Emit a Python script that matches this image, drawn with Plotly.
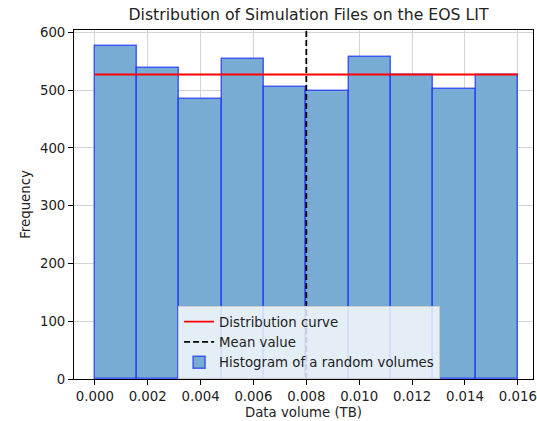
import numpy as np
import plotly.graph_objects as go

# Histogram of simulated file volumes on the EOS LIT storage
bin_edges = np.linspace(0.0, 0.016, 11)          # TB
bin_counts = [576, 539, 484, 553, 506, 498, 557, 526, 502, 526]
curve_level = 527                                # expected count per bin (uniform)
mean_volume = 0.008                              # TB

x_ticks = [0.000, 0.002, 0.004, 0.006, 0.008, 0.010, 0.012, 0.014, 0.016]
y_ticks = [0, 100, 200, 300, 400, 500, 600]

font_family = "DejaVu Sans"
text_color = "#222222"
base_size = 13.3
y_top = 604

centers = (bin_edges[:-1] + bin_edges[1:]) / 2
widths = np.diff(bin_edges)

fig = go.Figure()

fig.add_trace(go.Bar(
    x=centers, y=bin_counts, width=widths,
    marker=dict(color="#78acd2",
                line=dict(color="rgba(20,40,255,0.7)", width=1.5)),
    name="Histogram of a random volumes", legendrank=3,
))

fig.add_trace(go.Scatter(
    x=[bin_edges[0], bin_edges[-1]], y=[curve_level, curve_level],
    mode="lines", line=dict(color="red", width=1.8),
    name="Distribution curve", legendrank=1,
))

fig.add_trace(go.Scatter(
    x=[mean_volume, mean_volume], y=[0, y_top],
    mode="lines", line=dict(color="black", width=1.8, dash="6px,3px"),
    name="Mean value", legendrank=2,
))

axis_common = dict(
    showline=True, linecolor="black", linewidth=1, mirror=True,
    ticks="outside", ticklen=5, tickcolor="black", tickwidth=1,
    showgrid=True, gridcolor="#d4d4d4", gridwidth=1,
    zeroline=False, layer="above traces",
    tickfont=dict(family=font_family, size=base_size, color=text_color),
)

fig.update_layout(
    width=537, height=421,
    margin=dict(l=74, r=0, t=30, b=42),
    paper_bgcolor="white", plot_bgcolor="white",
    bargap=0,
    font=dict(family=font_family, color=text_color),
    title=dict(text="Distribution of Simulation Files on the EOS LIT",
               x=(74 + 543) / 2 / 537, xanchor="center",
               y=1 - 15 / 421, yanchor="middle",
               font=dict(family=font_family, size=15.7, color=text_color)),
    xaxis=dict(
        range=[-0.000787, 0.016574],
        tickvals=x_ticks, tickformat=".3f",
        ticklabeloverflow="allow",
        title=dict(text="Data volume (TB)", standoff=4,
                   font=dict(family=font_family, size=base_size, color=text_color)),
        **axis_common,
    ),
    yaxis=dict(
        range=[0, y_top],
        tickvals=y_ticks,
        title=dict(text="Frequency", standoff=6,
                   font=dict(family=font_family, size=base_size, color=text_color)),
        **axis_common,
    ),
    legend=dict(
        x=(179 - 74) / 463, y=(379 - 305.5) / 349,
        xanchor="left", yanchor="top",
        bgcolor="rgba(255,255,255,0.8)",
        bordercolor="#cccccc", borderwidth=1,
        font=dict(family=font_family, size=base_size, color=text_color),
        itemwidth=30, tracegroupgap=0,
    ),
    showlegend=True,
)

fig.write_html("out.html")
